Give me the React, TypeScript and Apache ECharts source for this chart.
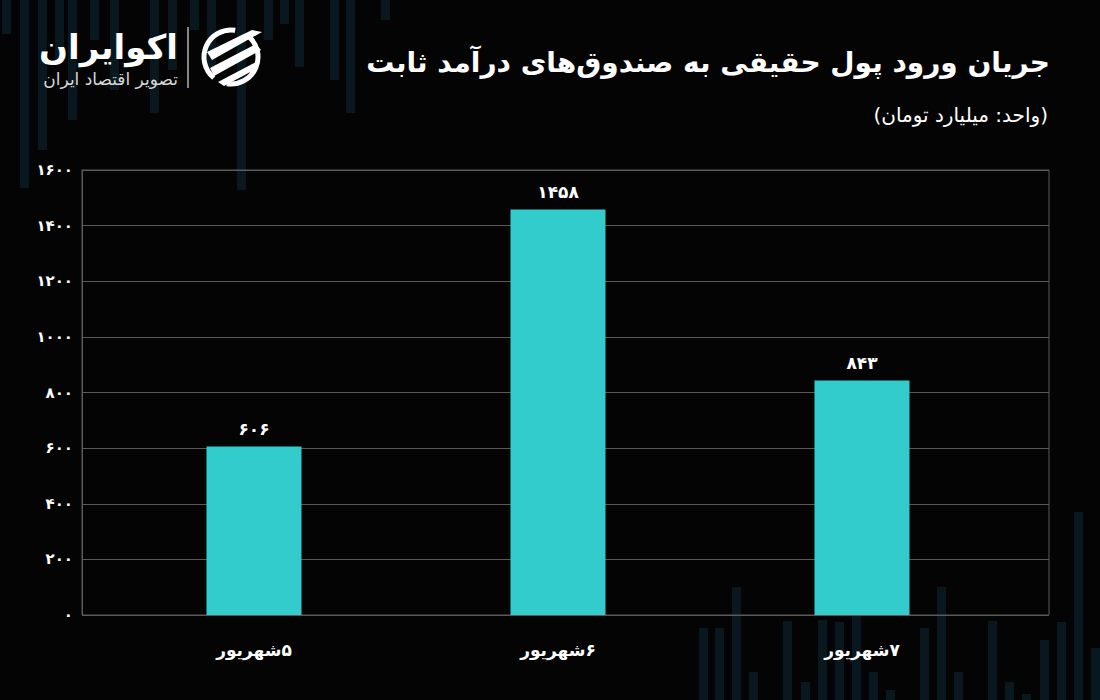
import React, { useEffect, useRef } from "react";
import * as echarts from "echarts";

// ---- data ----
const categories = ["۵شهریور", "۶شهریور", "۷شهریور"];
const values = [606, 1458, 843];
const yMin = 0;
const yMax = 1600;
const yInterval = 200;

const title = "جریان ورود پول حقیقی به صندوق‌های درآمد ثابت";
const subtitle = "(واحد: میلیارد تومان)";
const brand = "اکوایران";
const brandSub = "تصویر اقتصاد ایران";

const toFa = (v: number | string) =>
  String(v).replace(/\d/g, (d) => "۰۱۲۳۴۵۶۷۸۹"[Number(d)]);

// decorative background stripes: [x, yStart, yEnd]
const decorTop: number[][] = [
  [2, 0, 34], [20, 0, 188], [38, 0, 150], [55, 0, 60], [68, 0, 120], [90, 0, 40],
  [110, 0, 90], [150, 0, 113], [168, 0, 70], [190, 0, 30], [207, 0, 67],
  [237, 0, 190], [264, 0, 40], [280, 0, 24], [295, 0, 67], [330, 0, 80],
  [346, 0, 113], [381, 0, 20],
];
const decorBottom: number[][] = [
  [699, 628, 700], [715, 628, 700], [732, 587, 700], [749, 672, 700],
  [783, 621, 700], [801, 682, 700], [818, 620, 700], [835, 622, 700],
  [852, 612, 700], [869, 672, 700], [886, 690, 700], [920, 628, 700],
  [937, 587, 700], [954, 672, 700], [988, 621, 700], [1005, 682, 700],
  [1022, 694, 700], [1040, 640, 700], [1057, 622, 700], [1074, 512, 700],
  [1091, 648, 700],
];

const FONT = "'DejaVu Sans', 'Noto Sans', sans-serif";
const RLM = "\u200F";

export default function App() {
  const ref = useRef<HTMLDivElement>(null);

  useEffect(() => {
    if (!ref.current) return;
    const chart = echarts.init(ref.current, undefined, { renderer: "svg" });

    const decor: any[] = [...decorTop, ...decorBottom].map(([x, y1, y2]) => ({
      type: "rect",
      silent: true,
      z: -10,
      shape: { x, y: y1, width: 9, height: y2 - y1 },
      style: { fill: "#0b2630", opacity: 0.6 },
    }));

    const cx = 231;
    const cy = 57;
    const logo: any[] = [
      {
        type: "arc",
        shape: { cx, cy, r: 27, startAngle: Math.PI * 0.72, endAngle: Math.PI * 1.55 },
        style: { stroke: "#ffffff", lineWidth: 5, fill: "none" },
      },
      {
        type: "arc",
        shape: { cx, cy, r: 27, startAngle: Math.PI * 1.72, endAngle: Math.PI * 2.55 },
        style: { stroke: "#ffffff", lineWidth: 5, fill: "none" },
      },
      {
        type: "polygon",
        shape: { points: [[207, 52], [252, 30], [262, 32], [212, 60]] },
        style: { fill: "#ffffff" },
      },
      {
        type: "polygon",
        shape: { points: [[210, 68], [256, 44], [261, 50], [214, 76]] },
        style: { fill: "#ffffff" },
      },
      {
        type: "polygon",
        shape: { points: [[218, 82], [256, 62], [258, 68], [224, 86]] },
        style: { fill: "#ffffff" },
      },
      {
        type: "line",
        shape: { x1: 188, y1: 27, x2: 188, y2: 88 },
        style: { stroke: "#dddddd", lineWidth: 1.2 },
      },
      {
        type: "text",
        x: 178,
        y: 47,
        style: {
          text: brand,
          fill: "#ffffff",
          font: `bold 34px ${FONT}`,
          align: "right",
          verticalAlign: "middle",
        },
      },
      {
        type: "text",
        x: 178,
        y: 79,
        style: {
          text: brandSub,
          fill: "#d8d8d8",
          font: `17px ${FONT}`,
          align: "right",
          verticalAlign: "middle",
        },
      },
    ];

    const texts: any[] = [
      {
        type: "text",
        x: 1050,
        y: 62,
        style: {
          text: title,
          fill: "#ffffff",
          font: `bold 28px ${FONT}`,
          align: "right",
          verticalAlign: "middle",
        },
      },
      {
        type: "text",
        x: 1048,
        y: 115,
        style: {
          text: subtitle,
          fill: "#ffffff",
          font: `20px ${FONT}`,
          align: "right",
          verticalAlign: "middle",
        },
      },
    ];

    chart.setOption({
      animation: false,
      backgroundColor: "#040404",
      textStyle: { fontFamily: FONT },
      graphic: [...decor, ...logo, ...texts],
      grid: [
        {
          left: 82,
          right: 51,
          top: 170,
          bottom: 85,
          show: true,
          borderColor: "#5a5a5a",
          borderWidth: 1,
          backgroundColor: "transparent",
        },
        { left: 102, right: 86, top: 170, bottom: 85 },
      ],
      xAxis: [
        {
          type: "category",
          gridIndex: 0,
          data: [""],
          show: false,
        },
        {
          type: "category",
          gridIndex: 1,
          data: categories,
          axisLine: { show: false },
          axisTick: { show: false },
          axisLabel: {
            color: "#ffffff",
            fontSize: 17,
            fontWeight: "bold",
            fontFamily: FONT,
            margin: 26,
            formatter: (v: string) => RLM + v,
          },
        },
      ],
      yAxis: [
        {
          type: "value",
          gridIndex: 0,
          min: yMin,
          max: yMax,
          interval: yInterval,
          axisLine: { show: true, lineStyle: { color: "#5a5a5a" } },
          axisTick: { show: false },
          splitLine: { lineStyle: { color: "#5a5a5a", width: 1 } },
          axisLabel: {
            color: "#ffffff",
            fontSize: 15,
            fontWeight: "bold",
            fontFamily: FONT,
            margin: 9,
            formatter: (v: number) => toFa(v),
          },
        },
        {
          type: "value",
          gridIndex: 1,
          min: yMin,
          max: yMax,
          interval: yInterval,
          show: false,
          splitLine: { show: false },
        },
      ],
      series: [
        {
          type: "bar",
          xAxisIndex: 1,
          yAxisIndex: 1,
          data: values,
          barWidth: 95,
          itemStyle: { color: "#33cccc" },
          label: {
            show: true,
            position: "top",
            distance: 9,
            color: "#ffffff",
            fontSize: 17,
            fontWeight: "bold",
            fontFamily: FONT,
            formatter: (p: any) => toFa(p.value),
          },
        },
      ],
    });

    return () => chart.dispose();
  }, []);

  return (
    <div
      ref={ref}
      style={{
        position: "absolute",
        left: 0,
        top: 0,
        width: 1100,
        height: 700,
        background: "#040404",
      }}
    />
  );
}
